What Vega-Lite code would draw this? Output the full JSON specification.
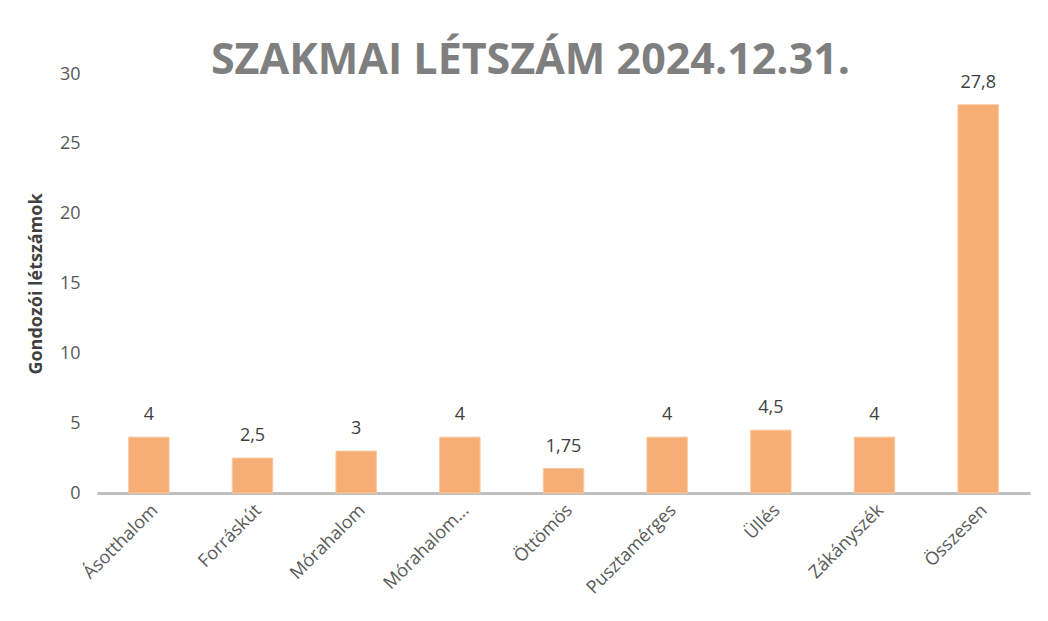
{
  "$schema": "https://vega.github.io/schema/vega-lite/v6.json",
  "width": 933,
  "height": 419,
  "autosize": "none",
  "padding": {"left": 97, "top": 74, "right": 18, "bottom": 128},
  "background": "white",
  "config": {
    "locale": {"number": {"decimal": ",", "thousands": " ", "grouping": [3], "currency": ["", " Ft"]}},
    "view": {"stroke": null},
    "font": "Open Sans"
  },
  "title": {
    "text": "SZAKMAI LÉTSZÁM 2024.12.31.",
    "font": "Open Sans",
    "fontSize": 43,
    "fontWeight": "bold",
    "color": "#7f7f7f",
    "anchor": "middle",
    "dx": -33,
    "dy": 22,
    "offset": -30,
    "baseline": "alphabetic",
    "limit": 0
  },
  "data": {
    "values": [
      {"telepules": "Ásotthalom", "letszam": 4},
      {"telepules": "Forráskút", "letszam": 2.5},
      {"telepules": "Mórahalom", "letszam": 3},
      {"telepules": "Mórahalom...", "letszam": 4},
      {"telepules": "Öttömös", "letszam": 1.75},
      {"telepules": "Pusztamérges", "letszam": 4},
      {"telepules": "Üllés", "letszam": 4.5},
      {"telepules": "Zákányszék", "letszam": 4},
      {"telepules": "Összesen", "letszam": 27.8}
    ]
  },
  "encoding": {
    "x": {
      "field": "telepules",
      "type": "nominal",
      "sort": null,
      "scale": {"paddingInner": 0.61, "paddingOuter": 0.305},
      "axis": {
        "title": null,
        "labelAngle": -45,
        "labelFontSize": 18,
        "labelColor": "#595959",
        "labelPadding": 8,
        "ticks": false,
        "domainColor": "#bfbfbf",
        "domainWidth": 3,
        "labelLimit": 200
      }
    },
    "y": {
      "field": "letszam",
      "type": "quantitative",
      "scale": {"domain": [0, 30]},
      "axis": {
        "title": "Gondozói létszámok",
        "titleFontSize": 18,
        "titleFontWeight": "bold",
        "titleColor": "#404040",
        "titlePadding": 14,
        "values": [0, 5, 10, 15, 20, 25, 30],
        "labelFontSize": 18,
        "labelColor": "#595959",
        "labelPadding": 17,
        "ticks": false,
        "domain": false,
        "grid": false
      }
    }
  },
  "layer": [
    {
      "mark": {"type": "bar", "color": "#F6AE74", "stroke": "#F9C9A0", "strokeWidth": 1}
    },
    {
      "mark": {"type": "text", "dy": -22, "fontSize": 18, "color": "#404040", "baseline": "middle"},
      "encoding": {"text": {"field": "letszam", "type": "quantitative", "format": ",.4~f"}}
    }
  ]
}
